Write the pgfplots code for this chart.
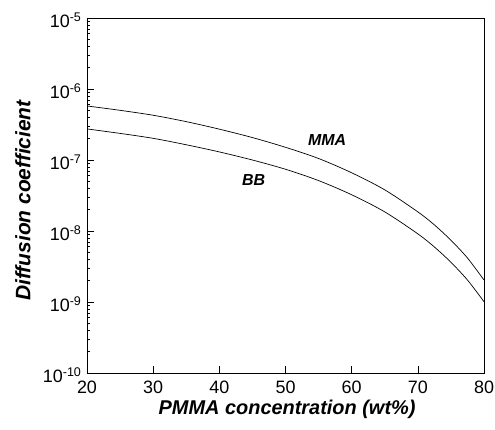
\documentclass[border=0pt]{standalone}
\usepackage{pgfplots}
\pgfplotsset{compat=1.18}
\usepackage{fontspec}
\setmainfont{Liberation Sans}
\setsansfont{Liberation Sans}
\begin{document}
\begin{tikzpicture}
\begin{axis}[
  scale only axis,
  width=397bp, height=355bp,
  xmin=20, xmax=80,
  ymode=log, ymin=1e-10, ymax=1e-5,
  xtick={20,30,...,80},
  ytick={1e-10,1e-9,1e-8,1e-7,1e-6,1e-5},
  yticklabels={10\textsuperscript{-10},10\textsuperscript{-9},10\textsuperscript{-8},10\textsuperscript{-7},10\textsuperscript{-6},10\textsuperscript{-5}},
  minor tick num=0, minor ytick={},
  tick align=inside, xtick pos=bottom, ytick pos=left,
  major tick length=7bp,
  tick style={black, line width=0.6pt},
  axis line style={line width=0.8pt},
  /pgf/number format/assume math mode=true,
  every tick label/.append style={font=\fontsize{18}{18}\selectfont},
  xticklabel style={yshift=-4bp},
  yticklabel style={xshift=-2bp, yshift=-2bp},
  xlabel={PMMA concentration (wt\%)},
  ylabel={Diffusion coefficient},
  xlabel style={font=\fontsize{20}{20}\selectfont\bfseries\itshape, at={(axis description cs:0.504,-0.118)}, anchor=base},
  ylabel style={font=\fontsize{21}{21}\selectfont\bfseries\itshape, at={(axis description cs:-0.1612,0.486)}, anchor=center},
]
\addplot[black, line width=0.7pt, smooth] coordinates {
(20,5.77e-7) (25,5.01e-7) (30,4.27e-7) (35,3.47e-7) (40,2.72e-7) (45,2.07e-7) (50,1.51e-7)
(55,1.05e-7) (60,6.61e-8) (65,3.80e-8) (70,1.86e-8) (72.5,1.22e-8) (75,7.41e-9) (77.5,4.17e-9) (80,2.04e-9)};
\addplot[black, line width=0.7pt, smooth] coordinates {
(20,2.74e-7) (25,2.37e-7) (30,2.02e-7) (35,1.64e-7) (40,1.30e-7) (45,1.00e-7) (50,7.41e-8)
(55,5.13e-8) (60,3.24e-8) (65,1.86e-8) (70,9.12e-9) (72.5,5.96e-9) (75,3.63e-9) (77.5,2.04e-9) (80,1.01e-9)};
\node[font=\fontsize{16}{16}\selectfont\bfseries\itshape] at (axis cs:56.3,1.9e-7) {MMA};
\node[font=\fontsize{16}{16}\selectfont\bfseries\itshape] at (axis cs:45.2,5.25e-8) {BB};
\end{axis}
\pgfresetboundingbox
\path (current axis.south west) ++(-87bp,-56bp) rectangle ([shift={(11bp,18bp)}]current axis.north east);
\end{tikzpicture}
\end{document}
